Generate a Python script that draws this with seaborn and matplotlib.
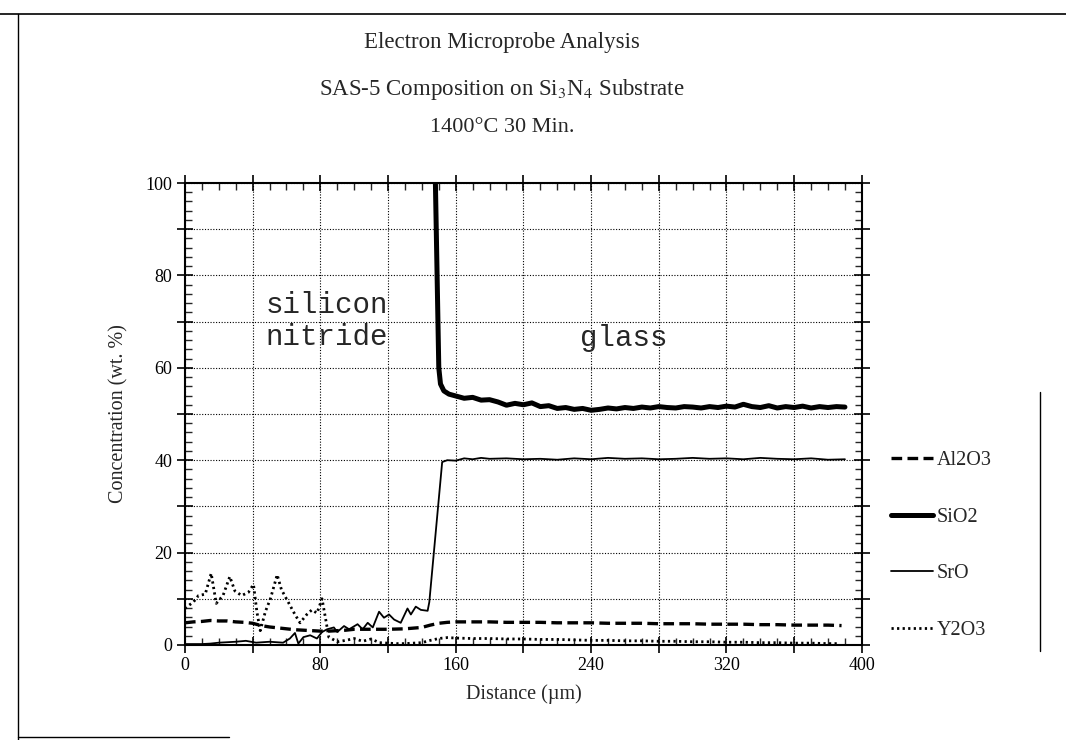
import matplotlib
matplotlib.use("Agg")
import matplotlib.pyplot as plt
import seaborn as sns
import pandas as pd
from matplotlib.ticker import MultipleLocator, FuncFormatter
from matplotlib.lines import Line2D

al2o3_x = [0, 5, 10, 15, 20, 25, 30, 35, 40, 45, 50, 55, 60, 65, 70, 75, 80, 85, 90, 95,
           100, 110, 120, 130, 140, 145, 150, 155, 160, 170, 180, 190, 200, 210, 220, 230,
           240, 250, 260, 270, 280, 290, 300, 310, 320, 330, 340, 350, 360, 370, 380, 388]
al2o3_y = [4.8, 5.0, 5.1, 5.3, 5.2, 5.2, 5.0, 4.9, 4.7, 4.2, 3.9, 3.7, 3.5, 3.3, 3.2, 3.1, 3.0, 3.0, 3.1, 3.2,
           3.4, 3.4, 3.4, 3.5, 3.8, 4.3, 4.7, 4.9, 5.0, 5.0, 5.0, 4.9, 4.9, 4.9, 4.8, 4.8,
           4.8, 4.7, 4.7, 4.7, 4.6, 4.6, 4.6, 4.5, 4.5, 4.5, 4.4, 4.4, 4.3, 4.3, 4.3, 4.2]

sio2_x = [148, 149, 150, 151, 153, 156, 160, 165, 170, 175, 180, 185, 190, 195, 200, 205, 210,
          215, 220, 225, 230, 235, 240, 245, 250, 255, 260, 265, 270, 275, 280, 285, 290, 295,
          300, 305, 310, 315, 320, 325, 330, 335, 340, 345, 350, 355, 360, 365, 370, 375, 380,
          385, 390]
sio2_y = [100, 80, 60, 56.5, 55.0, 54.3, 53.9, 53.4, 53.6, 53.0, 53.1, 52.6, 51.9, 52.3, 52.0, 52.4, 51.6,
          51.8, 51.2, 51.4, 51.0, 51.2, 50.8, 51.0, 51.3, 51.1, 51.4, 51.2, 51.5, 51.3, 51.6, 51.4, 51.3, 51.6,
          51.5, 51.3, 51.6, 51.4, 51.7, 51.5, 52.1, 51.6, 51.4, 51.8, 51.3, 51.6, 51.4, 51.7, 51.3, 51.6, 51.4,
          51.6, 51.5]

sro_x = [0, 10, 15, 20, 25, 30, 36, 42, 50, 58, 62, 65, 67, 70, 74, 78, 81, 84, 88, 90, 94, 97,
         102, 105, 108, 111, 114.7, 117.6, 120.6, 123.6, 127.5, 131.5, 133.5, 136.4, 139.4, 143.4,
         144.4, 152, 155, 160, 165, 170, 175, 180, 190, 200, 210, 220, 230, 240, 250, 260, 270,
         280, 290, 300, 310, 320, 330, 340, 350, 360, 370, 380, 390]
sro_y = [0.2, 0.2, 0.3, 0.5, 0.6, 0.7, 0.9, 0.5, 0.7, 0.5, 1.4, 2.6, 0.3, 1.7, 2.1, 1.4, 2.8, 3.4, 3.8, 2.8, 4.1, 3.4,
         4.5, 3.4, 4.8, 3.8, 7.2, 5.9, 6.6, 5.5, 4.8, 7.9, 6.6, 8.3, 7.6, 7.4,
         9.3, 39.6, 40.0, 39.9, 40.4, 40.2, 40.5, 40.3, 40.4, 40.2, 40.3, 40.1, 40.4, 40.2, 40.5, 40.3, 40.4,
         40.2, 40.3, 40.5, 40.3, 40.4, 40.2, 40.5, 40.3, 40.2, 40.4, 40.1, 40.2]

y2o3_x = [0, 2, 5, 8, 12, 15.5, 18.5, 22.5, 26.5, 29.5, 33.5, 37.5, 40.5, 42.5, 44.5, 47.5, 50.5,
          54.5, 57, 61, 65, 68, 72, 75, 78, 81, 83, 85, 90, 95, 100, 105, 110, 115, 120, 125,
          130, 135, 140, 145, 150, 155, 160, 170, 180, 190, 200, 210, 220, 230, 240, 250, 260,
          270, 280, 290, 300, 310, 320, 330, 340, 350, 360, 370, 380, 386]
y2o3_y = [7.9, 8.5, 9.3, 10.7, 11.0, 15.5, 9.0, 10.7, 14.8, 11.7, 10.7, 11.4, 13.1, 7.2, 3.1, 7.2, 10.0,
          15.2, 12.0, 9.3, 6.6, 4.8, 6.6, 7.6, 6.9, 10.0, 5.9, 1.7, 0.7, 1.0, 1.4, 0.8, 1.3, 0.5, 0.4, 0.3,
          0.3, 0.4, 0.5, 1.0, 1.4, 1.6, 1.5, 1.4, 1.4, 1.3, 1.3, 1.2, 1.2, 1.1, 1.0, 1.0, 0.9,
          0.9, 0.8, 0.8, 0.7, 0.7, 0.6, 0.6, 0.5, 0.5, 0.4, 0.4, 0.3, 0.3]

series = [
    ("Al2O3", al2o3_x, al2o3_y, dict(lw=2.4, dashes=(3.2, 1.6))),
    ("SiO2", sio2_x, sio2_y, dict(lw=3.6)),
    ("SrO", sro_x, sro_y, dict(lw=1.3)),
    ("Y2O3", y2o3_x, y2o3_y, dict(lw=2.0, dashes=(0.8, 1.2))),
]

sns.set_style("ticks")
plt.rcParams['font.family'] = ['Liberation Serif', 'DejaVu Serif']
plt.rcParams['mathtext.fontset'] = 'stix'

fig = plt.figure(figsize=(10.66, 7.4), dpi=100)
ax = fig.add_axes([0.1735, 0.1284, 0.635, 0.6243])

for name, xs, ys, style in series:
    df = pd.DataFrame({"Distance": xs, "Concentration": ys})
    sns.lineplot(data=df, x="Distance", y="Concentration", ax=ax, color="black",
                 label=name, sort=False, **style)

ax.set_xlim(0, 400)
ax.set_ylim(0, 100)
ax.xaxis.set_major_locator(MultipleLocator(40))
ax.xaxis.set_minor_locator(MultipleLocator(10))
ax.yaxis.set_major_locator(MultipleLocator(10))
ax.yaxis.set_minor_locator(MultipleLocator(2))
ax.xaxis.set_major_formatter(FuncFormatter(lambda v, p: f"{v:.0f}" if round(v) % 80 == 0 else ""))
ax.yaxis.set_major_formatter(FuncFormatter(lambda v, p: f"{v:.0f}" if round(v) % 20 == 0 else ""))
ax.tick_params(which='major', direction='inout', length=11, width=1.2, top=True, right=True,
               labelsize=13, colors='black')
ax.tick_params(which='minor', direction='in', length=5, width=1.0, top=True, right=True)
ax.grid(True, which='major', color='black', linestyle=(0, (1, 1.5)), lw=0.8)
for sp in ax.spines.values():
    sp.set_linewidth(1.5)
    sp.set_color('black')

ax.set_xlabel("Distance (\u00b5m)", fontsize=14.5, labelpad=7)
ax.set_ylabel("Concentration (wt. %)", fontsize=14.5, labelpad=12)

mono = ['Liberation Mono', 'DejaVu Sans Mono']
ax.text(84, 73.5, "silicon", family=mono, fontsize=21, ha='center', va='center')
ax.text(84, 66.7, "nitride", family=mono, fontsize=21, ha='center', va='center')
ax.text(259, 66.5, "glass", family=mono, fontsize=21, ha='center', va='center')

fig.text(0.471, 0.935, "Electron Microprobe Analysis", ha='center', va='baseline', fontsize=16.5)
fig.text(0.471, 0.871, r"SAS-5 Composition on Si$_3$N$_4$ Substrate", ha='center', va='baseline', fontsize=16.5)
fig.text(0.471, 0.822, "1400\u00b0C 30 Min.", ha='center', va='baseline', fontsize=16)

ax.legend(loc='upper left', bbox_to_anchor=(0.836, 0.39), bbox_transform=fig.transFigure,
          frameon=False, fontsize=14.5, handlelength=2.1, handletextpad=0.15,
          labelspacing=1.85, borderpad=0, borderaxespad=0)

# scanned page frame
fig.add_artist(Line2D([0, 1], [0.981, 0.981], transform=fig.transFigure, color='black', lw=1.2))
fig.add_artist(Line2D([0.017, 0.017], [0.0, 0.981], transform=fig.transFigure, color='black', lw=1.0))
fig.add_artist(Line2D([0.017, 0.215], [0.004, 0.004], transform=fig.transFigure, color='black', lw=1.0))
fig.add_artist(Line2D([0.976, 0.976], [0.12, 0.47], transform=fig.transFigure, color='black', lw=1.0))

fig.savefig("out.png", dpi=100)
